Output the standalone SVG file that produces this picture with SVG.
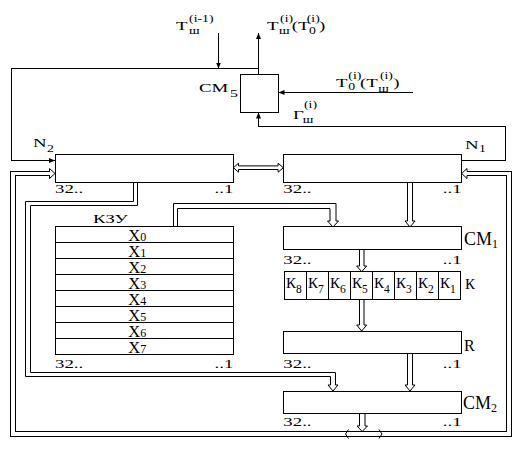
<svg xmlns="http://www.w3.org/2000/svg" width="529" height="452" viewBox="0 0 529 452">
<defs>
<style>
.l{fill:none;stroke:#000;stroke-width:1;shape-rendering:crispEdges}
.h{fill:none;stroke:#000;stroke-width:1}
.b{fill:#fff;stroke:#000;stroke-width:1;shape-rendering:crispEdges}
text{font-family:"Liberation Serif","Times New Roman",serif;fill:#000}
.w{font-size:13px}
.s{font-size:9.5px}
.x{font-size:16.5px}
.xs{font-size:12px}
.k{font-size:15px}
.ks{font-size:11.5px}
.c{font-size:18px}
.cs{font-size:12px}
</style>
<marker id="ah" markerUnits="userSpaceOnUse" markerWidth="6" markerHeight="5" refX="6" refY="2.5" orient="auto">
<path d="M0,0 L6,2.5 L0,5 Z" fill="#000"/>
</marker>
</defs>
<rect width="529" height="452" fill="#fff"/>

<g id="connectors">
<path class="l" d="M258.5,68.5 L11.5,68.5 L11.5,160.5 L55,160.5" marker-end="url(#ah)"/>
<path class="l" d="M258.5,74.5 L258.5,33" marker-end="url(#ah)"/>
<path class="l" d="M218.5,33 L218.5,68.5" marker-end="url(#ah)"/>
<path class="l" d="M413,92.5 L278.5,92.5" marker-end="url(#ah)"/>
<path class="l" d="M461.5,160.5 L505.5,160.5 L505.5,126.5 L258.5,126.5 L258.5,112.5" marker-end="url(#ah)"/>
<path class="h" d="M233.5,167.7 L238.5,163.2 L238.5,165.9 L278.1,165.9 L278.1,163.2 L283.3,167.7 L278.1,172.2 L278.1,169.5 L238.5,169.5 L238.5,172.2 Z" fill="#fff"/>
<path class="h" d="M133.5,182.5 L133.5,201.5 L25.5,201.5 L25.5,376.5 L330.5,376.5 L330.5,385 L328,385 L333,391 L338,385 L335.5,385 L335.5,372.5 L30.5,372.5 L30.5,205.5 L137.5,205.5 L137.5,182.5"/>
<path class="h" d="M173.5,226 L173.5,203.5 L336,203.5 L336,221 L338.5,221 L333,227 L327.5,221 L330,221 L330,208.5 L177.5,208.5 L177.5,226"/>
<path class="h" d="M407.5,182.5 L407.5,221 L405,221 L410,227 L415,221 L412.5,221 L412.5,182.5"/>
<path class="h" d="M359.5,249 L359.5,266 L356.7,266 L361.7,271.7 L366.7,266 L364,266 L364,249"/>
<path class="h" d="M359.5,299.3 L359.5,325 L356.7,325 L361.7,331 L366.7,325 L364,325 L364,299.3"/>
<path class="h" d="M407.5,353.3 L407.5,385 L405,385 L410,391 L415,385 L412.5,385 L412.5,353.3"/>
<path class="h" d="M359.5,413 L359.5,426 L357,426 L362.2,431.5 L367.5,426 L365,426 L365,413"/>
<path class="l" d="M49.5,171.5 L10.5,171.5 L10.5,436.5 L511.5,436.5 L511.5,171.5 L467,171.5"/>
<path class="l" d="M49.5,175.5 L15.5,175.5 L15.5,431.5 L506.5,431.5 L506.5,175.5 L467,175.5"/>
<path class="h" d="M49.5,171.5 L49.5,168.5 L55,173.5 L49.5,178.5 L49.5,175.5"/>
<path class="h" d="M467,171.5 L467,168.5 L461.7,173.5 L467,178.5 L467,175.5"/>
<path class="h" d="M348.5,429.5 L345.5,434 L348.5,438.5"/>
<path class="h" d="M379,429.5 L382,434 L379,438.5"/>
</g>

<g id="labels-top">
<text class="w" transform="translate(176,29.5) scale(1.45,1)"><tspan x="0" y="0">Т</tspan><tspan class="s" x="9" y="4.5">ш</tspan><tspan class="s" x="9" y="-7.5">(i-1)</tspan></text>
<text class="w" transform="translate(267,29.5) scale(1.45,1)"><tspan x="0" y="0">Т</tspan><tspan class="s" x="8.3" y="4.5">ш</tspan><tspan class="s" x="9" y="-7.5">(i)</tspan><tspan x="17" y="0">(Т</tspan><tspan class="s" x="29" y="4.5">0</tspan><tspan class="s" x="27.4" y="-7.5">(i)</tspan><tspan x="35.9" y="0">)</tspan></text>
<text class="w" transform="translate(336,87) scale(1.45,1)"><tspan x="0" y="0">Т</tspan><tspan class="s" x="8.5" y="3">0</tspan><tspan class="s" x="8.5" y="-8">(i)</tspan><tspan x="16.6" y="0">(Т</tspan><tspan class="s" x="29.2" y="4.5">ш</tspan><tspan class="s" x="30.3" y="-8">(i)</tspan><tspan x="39.5" y="0">)</tspan></text>
<text class="w" transform="translate(293,119.3) scale(1.45,1)"><tspan x="0" y="0">Г</tspan><tspan class="s" x="6.7" y="3.5">ш</tspan><tspan class="s" x="7.6" y="-11">(i)</tspan></text>
</g>

<g id="CM5">
<rect class="b" x="240.5" y="74.5" width="38" height="38"/>
<text class="w" transform="translate(199,92.3) scale(1.45,1)"><tspan x="0" y="0">СМ</tspan><tspan x="21.4" y="4.5" style="font-size:11px">5</tspan></text>
</g>

<g id="N2">
<rect class="b" x="55.5" y="154.5" width="178" height="28"/>
<text class="w" transform="translate(33,147.3) scale(1.45,1)"><tspan x="0" y="0">N</tspan><tspan class="s" x="9.6" y="5">2</tspan></text>
<text class="w" transform="translate(55,193.3) scale(1.45,1)">32..</text>
<text class="w" text-anchor="end" transform="translate(233.3,193.3) scale(1.45,1)">..1</text>
</g>

<g id="N1">
<rect class="b" x="283.5" y="154.5" width="178" height="28"/>
<text class="w" transform="translate(465,149.3) scale(1.45,1)"><tspan x="0" y="0">N</tspan><tspan class="s" x="9.6" y="3">1</tspan></text>
<text class="w" transform="translate(283.3,193.3) scale(1.45,1)">32..</text>
<text class="w" text-anchor="end" transform="translate(461.7,193.3) scale(1.45,1)">..1</text>
</g>

<g id="KZU">
<rect class="b" x="55.5" y="226.5" width="178" height="128"/>
<path class="l" d="M55.5,242.5 H233.5 M55.5,258.5 H233.5 M55.5,274.5 H233.5 M55.5,290.5 H233.5 M55.5,306.5 H233.5 M55.5,322.5 H233.5 M55.5,338.5 H233.5"/>
<text class="w" transform="translate(93,223.3) scale(1.45,1)">КЗУ</text>
<text class="x" x="128.3" y="240.7">X<tspan class="xs" dy="0.5">0</tspan></text>
<text class="x" x="128.3" y="256.7">X<tspan class="xs" dy="0.5">1</tspan></text>
<text class="x" x="128.3" y="272.7">X<tspan class="xs" dy="0.5">2</tspan></text>
<text class="x" x="128.3" y="288.7">X<tspan class="xs" dy="0.5">3</tspan></text>
<text class="x" x="128.3" y="304.7">X<tspan class="xs" dy="0.5">4</tspan></text>
<text class="x" x="128.3" y="320.7">X<tspan class="xs" dy="0.5">5</tspan></text>
<text class="x" x="128.3" y="336.7">X<tspan class="xs" dy="0.5">6</tspan></text>
<text class="x" x="128.3" y="352.7">X<tspan class="xs" dy="0.5">7</tspan></text>
<text class="w" transform="translate(55,368.3) scale(1.45,1)">32..</text>
<text class="w" text-anchor="end" transform="translate(233.3,368.3) scale(1.45,1)">..1</text>
</g>

<g id="CM1">
<rect class="b" x="283.5" y="226.5" width="178" height="22.5"/>
<text class="c" x="464" y="245">СМ<tspan class="cs" dy="3">1</tspan></text>
<text class="w" transform="translate(283.3,264) scale(1.45,1)">32..</text>
<text class="w" text-anchor="end" transform="translate(461.7,264) scale(1.45,1)">..1</text>
</g>

<g id="K">
<rect class="b" x="284.5" y="271.5" width="176" height="28"/>
<path class="l" d="M306.5,271.5 V299.5 M328.5,271.5 V299.5 M350.5,271.5 V299.5 M372.5,271.5 V299.5 M394.5,271.5 V299.5 M416.5,271.5 V299.5 M438.5,271.5 V299.5"/>
<text class="k" x="286" y="288.3">К<tspan class="ks" dy="4.5">8</tspan></text>
<text class="k" x="308" y="288.3">К<tspan class="ks" dy="4.5">7</tspan></text>
<text class="k" x="330" y="288.3">К<tspan class="ks" dy="4.5">6</tspan></text>
<text class="k" x="352" y="288.3">К<tspan class="ks" dy="4.5">5</tspan></text>
<text class="k" x="374" y="288.3">К<tspan class="ks" dy="4.5">4</tspan></text>
<text class="k" x="396" y="288.3">К<tspan class="ks" dy="4.5">3</tspan></text>
<text class="k" x="418" y="288.3">К<tspan class="ks" dy="4.5">2</tspan></text>
<text class="k" x="440" y="288.3">К<tspan class="ks" dy="4.5">1</tspan></text>
<text class="k" x="465" y="289">К</text>
</g>

<g id="R">
<rect class="b" x="283.5" y="331.5" width="178" height="22"/>
<text x="464" y="350.7" style="font-size:16px">R</text>
<text class="w" transform="translate(283.3,367.5) scale(1.45,1)">32..</text>
<text class="w" text-anchor="end" transform="translate(461.7,367.5) scale(1.45,1)">..1</text>
</g>

<g id="CM2">
<rect class="b" x="283.5" y="391.5" width="178" height="21.5"/>
<text class="c" x="463" y="409">СМ<tspan class="cs" dy="3">2</tspan></text>
<text class="w" transform="translate(283.3,426) scale(1.45,1)">32..</text>
<text class="w" text-anchor="end" transform="translate(461.7,426) scale(1.45,1)">..1</text>
</g>
</svg>
